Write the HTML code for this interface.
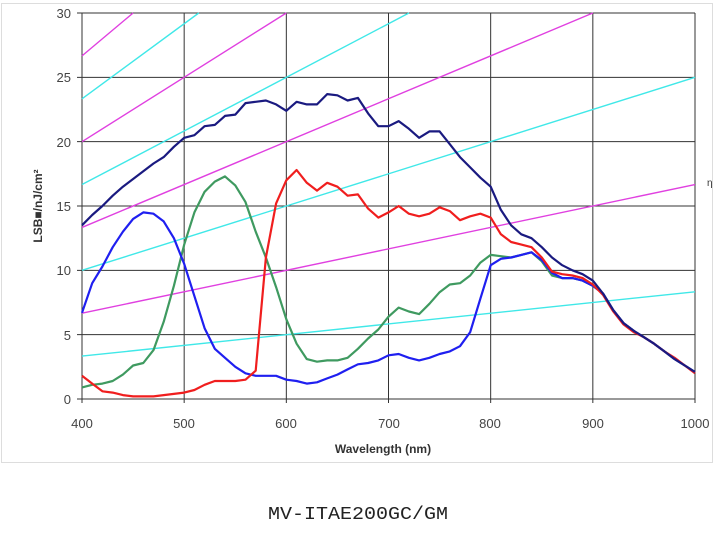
<!DOCTYPE html>
<html><head><meta charset="utf-8"><style>
body{margin:0;background:#fff;width:716px;height:542px;overflow:hidden}
</style></head><body>
<svg id="s" width="716" height="542" xmlns="http://www.w3.org/2000/svg" style="position:absolute;left:0;top:0;font-family:'Liberation Sans',sans-serif">
<rect x="1.5" y="3.5" width="711" height="459" fill="#fff" stroke="#ddd"/>
<g id="grid" stroke="#333" stroke-width="1"></g>
<g id="diag" fill="none" stroke-width="1.4"></g>
<g id="curves" fill="none" stroke-width="2.2" stroke-linejoin="round"></g>
<g font-size="13" fill="#444" text-anchor="end">
<text x="71" y="18">30</text><text x="71" y="82">25</text><text x="71" y="147">20</text><text x="71" y="211">15</text><text x="71" y="275">10</text><text x="71" y="340">5</text><text x="71" y="404">0</text>
</g>
<g font-size="13" fill="#444" text-anchor="middle">
<text x="82" y="428">400</text><text x="184" y="428">500</text><text x="286" y="428">600</text><text x="389" y="428">700</text><text x="490" y="428">800</text><text x="593" y="428">900</text><text x="695" y="428">1000</text>
</g>
<text x="383" y="453" font-size="12" font-weight="bold" fill="#333" text-anchor="middle">Wavelength (nm)</text>
<text transform="translate(42,206) rotate(-90)" font-size="12" font-weight="bold" fill="#333" text-anchor="middle">LSB■/nJ/cm²</text>
<text x="707" y="186" font-size="10" fill="#333">η</text>
<text x="268" y="519" font-size="18" fill="#222" textLength="180" lengthAdjust="spacingAndGlyphs" font-family="'Liberation Mono','Noto Sans CJK JP',monospace">MV-ITAE200GC/GM</text>
</svg>
<script>
var NS="http://www.w3.org/2000/svg";
function X(w){return 82+(w-400)*613/600}
function Y(v){return 399-v*386/30}
var g=document.getElementById('grid');
function ln(p,x1,y1,x2,y2,c,w){var l=document.createElementNS(NS,'line');l.setAttribute('x1',x1);l.setAttribute('y1',y1);l.setAttribute('x2',x2);l.setAttribute('y2',y2);if(c)l.setAttribute('stroke',c);if(w)l.setAttribute('stroke-width',w);p.appendChild(l);}
for(var v=0;v<=30;v+=5)ln(g,77,Y(v),695,Y(v));
for(var w=400;w<=1000;w+=100)ln(g,X(w),Y(30),X(w),403);
var d=document.getElementById('diag');
[[15,'#e040e0'],[20,'#e040e0'],[30,'#e040e0'],[60,'#e040e0'],[120/7,'#40e8e8'],[24,'#40e8e8'],[40,'#40e8e8'],[120,'#40e8e8']].forEach(function(a){
var k=a[0];var w2=Math.min(1000,30*k);ln(d,X(400),Y(400/k),X(w2),Y(w2/k),a[1]);});
var tail=[[910,8.2],[920,6.9],[930,5.9],[940,5.3],[950,4.8],[960,4.3],[970,3.7],[980,3.1],[990,2.6],[1000,2.1]];
var step=10;
function mk(start,vals){var o=[];for(var i=0;i<vals.length;i++)o.push([start+i*step,vals[i]]);return o;}
var navy=mk(400,[13.5,14.3,15,15.8,16.5,17.1,17.7,18.3,18.8,19.6,20.3,20.5,21.2,21.3,22,22.1,23,23.1,23.2,22.9,22.4,23.1,22.9,22.9,23.7,23.6,23.2,23.4,22.2,21.2,21.2,21.6,21,20.3,20.8,20.8,19.8,18.8,18,17.2,16.5,14.7,13.5,12.8,12.5,11.8,11,10.4,10,9.7,9.2]).concat(tail);
var blue=mk(400,[6.7,9,10.3,11.8,13,14,14.5,14.4,13.8,12.5,10.5,8,5.5,3.9,3.2,2.5,2,1.8,1.8,1.8,1.5,1.4,1.2,1.3,1.6,1.9,2.3,2.7,2.8,3,3.4,3.5,3.2,3,3.2,3.5,3.7,4.1,5.2,7.8,10.4,10.9,11,11.2,11.4,10.8,9.8,9.4,9.4,9.2,8.8]).concat(tail);
var green=mk(400,[0.9,1.1,1.2,1.4,1.9,2.6,2.8,3.8,6,8.8,12,14.5,16.1,16.9,17.3,16.6,15.3,13,11,8.7,6.2,4.3,3.1,2.9,3,3,3.2,3.9,4.7,5.4,6.4,7.1,6.8,6.6,7.4,8.3,8.9,9,9.6,10.6,11.2,11.1,11,11.2,11.4,10.7,9.6,9.4,9.4,9.2,8.8]).concat(tail);
var red=mk(400,[1.8,1.2,0.6,0.5,0.3,0.2,0.2,0.2,0.3,0.4,0.5,0.7,1.1,1.4,1.4,1.4,1.5,2.2,11,15.2,17,17.8,16.8,16.2,16.8,16.5,15.8,15.9,14.8,14.1,14.5,15,14.4,14.2,14.4,14.9,14.6,13.9,14.2,14.4,14.1,12.8,12.2,12,11.8,11,9.9,9.7,9.6,9.4,8.9]).concat([[910,8.1],[920,6.8],[930,5.8],[940,5.2],[950,4.8],[960,4.3],[970,3.7],[980,3.2],[990,2.6],[1000,2]]);
var c=document.getElementById('curves');
[[green,'#3f9a60'],[blue,'#1f1ff0'],[red,'#f01e1e'],[navy,'#1a1a80']].forEach(function(a){
var p=document.createElementNS(NS,'polyline');p.setAttribute('points',a[0].map(function(q){return X(q[0]).toFixed(1)+','+Y(q[1]).toFixed(1)}).join(' '));p.setAttribute('stroke',a[1]);c.appendChild(p);});
</script>
</body></html>
